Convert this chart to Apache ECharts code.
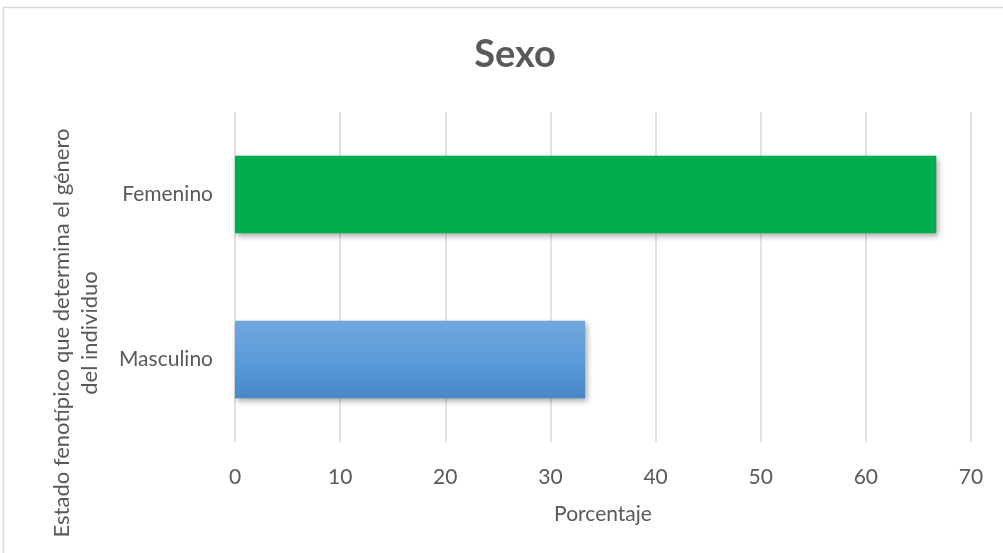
<!DOCTYPE html>
<html>
<head>
<meta charset="utf-8">
<script src="https://cdn.jsdelivr.net/npm/echarts@6/dist/echarts.min.js"></script>
<style>html,body{margin:0;padding:0;background:#fff;}#c{width:1003px;height:553px;}</style>
</head>
<body>
<div id="c"></div>
<script>
const categories = ['Masculino', 'Femenino'];
const values = [33.3, 66.7];
const barColors = ['blue', 'green'];
const xTicks = [0, 10, 20, 30, 40, 50, 60, 70];
const titleText = 'Sexo';
const xName = 'Porcentaje';
const yName = 'Estado fenotípico que determina el género\ndel individuo';

const FONT = 'Lato, "Open Sans", sans-serif';
const blueGrad = new echarts.graphic.LinearGradient(0, 0, 0, 1, [
  {offset: 0, color: '#72a7dc'},
  {offset: 0.5, color: '#5b9bd9'},
  {offset: 1, color: '#4788c7'}
]);
const chart = echarts.init(document.getElementById('c'));
chart.setOption({
  backgroundColor: '#fff',
  animation: false,
  title: {
    text: titleText, left: 510, top: 31, textAlign: 'center',
    textStyle: {fontFamily: FONT, fontSize: 38, fontWeight: 'bold', color: '#595959'}
  },
  grid: {left: 235, right: 32, top: 112, bottom: 111},
  xAxis: {
    type: 'value', min: xTicks[0], max: xTicks[xTicks.length - 1], interval: 10,
    name: xName, nameLocation: 'middle', nameGap: 62,
    nameTextStyle: {fontFamily: FONT, fontSize: 21, color: '#595959'},
    axisLine: {show: false}, axisTick: {show: false},
    axisLabel: {fontFamily: FONT, fontSize: 21, color: '#595959', margin: 25},
    splitLine: {show: true, lineStyle: {color: '#d9d9d9', width: 1.5}}
  },
  yAxis: {
    type: 'category', data: categories,
    axisLine: {show: false}, axisTick: {show: false},
    axisLabel: {fontFamily: FONT, fontSize: 21, color: '#595959', margin: 22}
  },
  series: [{
    type: 'bar', barWidth: '47%',
    data: values.map((v, i) => ({
      value: v,
      itemStyle: {
        color: barColors[i] === 'green' ? '#00ae4f' : blueGrad,
        shadowColor: 'rgba(0,0,0,0.35)', shadowBlur: 6, shadowOffsetX: 2, shadowOffsetY: 3
      }
    }))
  }],
  graphic: [
    {type: 'rect', shape: {x: 3.5, y: 7.5, width: 1100, height: 700}, style: {fill: 'none', stroke: '#d9d9d9', lineWidth: 1.5}, silent: true},
    {type: 'text', x: 76, y: 333, rotation: Math.PI / 2,
     style: {text: yName, fontFamily: FONT, fontSize: 22, fill: '#595959', align: 'center', verticalAlign: 'middle', lineHeight: 28}}
  ]
});
</script>
</body>
</html>
